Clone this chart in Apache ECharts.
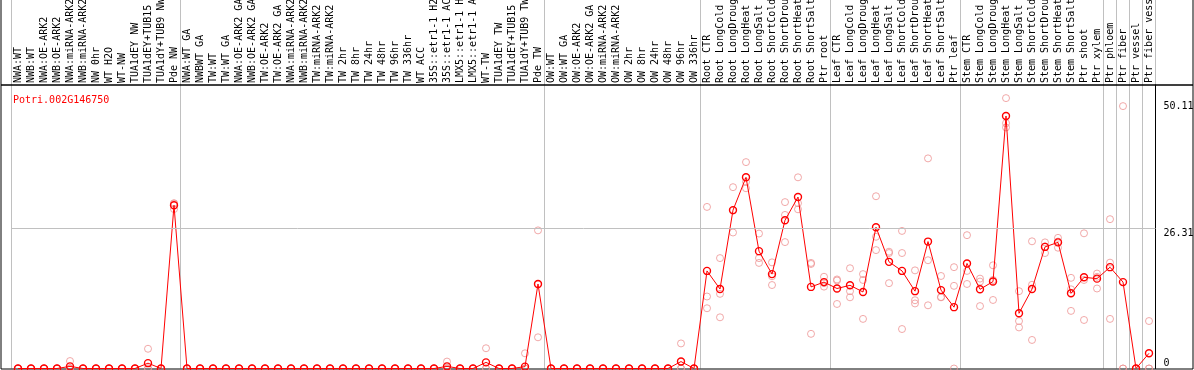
<!DOCTYPE html>
<html>
<head>
<meta charset="utf-8">
<script src="https://cdn.jsdelivr.net/npm/echarts@6/dist/echarts.min.js"></script>
<style>
    html, body { margin: 0; padding: 0; background: #fff; }
    #chart { width: 1194px; height: 370px; }
</style>
</head>
<body>
<div id="chart"></div>
<script>
// 基因表达谱 (Potri.002G146750)
var geneId = 'Potri.002G146750';

var samples = [
    'NWA:WT', 'NWB:WT', 'NWA:OE-ARK2', 'NWB:OE-ARK2', 'NWA:miRNA-ARK2', 'NWB:miRNA-ARK2',
    'NW 0hr', 'WT H2O', 'WT-NW', 'TUA1dEY NW', 'TUA1dEY+TUB15 NW', 'TUA1dY+TUB9 NW', 'Pde NW',
    'NWA:WT GA', 'NWBWT GA', 'TW:WT', 'TW:WT GA', 'NWA:OE-ARK2 GA', 'NWB:OE-ARK2 GA',
    'TW:OE-ARK2', 'TW:OE-ARK2 GA', 'NWA:miRNA-ARK2 GA', 'NWB:miRNA-ARK2 GA', 'TW:miRNA-ARK2',
    'TW:miRNA-ARK2 GA', 'TW 2hr', 'TW 8hr', 'TW 24hr', 'TW 48hr', 'TW 96hr', 'TW 336hr', 'WT ACC',
    '35S::etr1-1 H2O', '35S::etr1-1 ACC', 'LMX5::etr1-1 H2O', 'LMX5::etr1-1 ACC', 'WT-TW',
    'TUA1dEY TW', 'TUA1dEY+TUB15 TW', 'TUA1dY+TUB9 TW', 'Pde TW',
    'OW:WT', 'OW:WT GA', 'OW:OE-ARK2', 'OW:OE-ARK2 GA', 'OW:miRNA-ARK2', 'OW:miRNA-ARK2 GA',
    'OW 2hr', 'OW 8hr', 'OW 24hr', 'OW 48hr', 'OW 96hr', 'OW 336hr',
    'Root CTR', 'Root LongCold', 'Root LongDrought', 'Root LongHeat', 'Root LongSalt',
    'Root ShortCold', 'Root ShortDrought', 'Root ShortHeat', 'Root ShortSalt', 'Ptr root',
    'Leaf CTR', 'Leaf LongCold', 'Leaf LongDrought', 'Leaf LongHeat', 'Leaf LongSalt',
    'Leaf ShortCold', 'Leaf ShortDrought', 'Leaf ShortHeat', 'Leaf ShortSalt', 'Ptr leaf',
    'Stem CTR', 'Stem LongCold', 'Stem LongDrought', 'Stem LongHeat', 'Stem LongSalt',
    'Stem ShortCold', 'Stem ShortDrought', 'Stem ShortHeat', 'Stem ShortSalt', 'Ptr shoot',
    'Ptr xylem', 'Ptr phloem', 'Ptr fiber', 'Ptr vessel', 'Ptr fiber vessel'
];

// 平均值
var meanExpr = [
    0, 0, 0, 0, 0.4, 0, 0, 0, 0, 0, 1.0, 0, 30.6,
    0, 0, 0, 0, 0, 0, 0, 0, 0, 0, 0, 0, 0, 0, 0, 0, 0, 0, 0,
    0, 0.4, 0, 0, 1.15, 0, 0, 0.35, 15.85,
    0, 0, 0, 0, 0, 0, 0, 0, 0, 0, 1.3, 0,
    18.3, 14.9, 29.7, 35.85, 22.0, 17.7, 27.8, 32.15, 15.3, 16.2,
    15.0, 15.6, 14.35, 26.5, 20.0, 18.3, 14.5, 23.8, 14.7, 11.5,
    19.7, 14.85, 16.3, 47.35, 10.35, 14.9, 22.8, 23.65, 14.1, 17.1, 16.85,
    19.0, 16.2, 0, 2.85
];

// 重复样本
var rep1 = [
    0, 0, 0, 0, 1.4, 0, 0, 0, 0, 0, 3.7, 0, 31.0,
    0, 0, 0, 0, 0, 0, 0, 0, 0, 0, 0, 0, 0, 0, 0, 0, 0, 0, 0,
    0, 1.3, 0, 0, 3.8, 0, 0, 2.85, 25.9,
    0, 0, 0, 0, 0, 0, 0, 0, 0, 0, 4.7, 0,
    30.3, 20.7, 34.0, 38.7, 25.3, 19.9, 31.2, 35.85, 19.8, 17.2,
    16.7, 18.8, 17.7, 32.3, 21.9, 25.8, 18.4, 39.4, 17.35, 19.0,
    25.0, 16.85, 19.35, 50.7, 14.5, 23.85, 23.65, 24.5, 17.0, 25.35, 17.8,
    28.0, 49.2, 0, 8.9
];
var rep2 = [
    0, 0, 0, 0, 0, 0, 0, 0, 0, 0, 0, 0, 29.9,
    0, 0, 0, 0, 0, 0, 0, 0, 0, 0, 0, 0, 0, 0, 0, 0, 0, 0, 0,
    0, 0, 0, 0, 0, 0, 0, 0, 5.85,
    0, 0, 0, 0, 0, 0, 0, 0, 0, 0, 0, 0,
    13.5, 14.0, 25.5, 33.8, 20.7, 17.3, 28.8, 31.0, 19.6, 15.35,
    16.5, 14.5, 16.6, 24.7, 21.65, 21.65, 12.8, 20.3, 13.35, 15.5,
    15.85, 11.7, 16.6, 46.0, 8.9, 15.7, 21.65, 22.65, 14.85, 16.6, 17.2,
    19.85, 0, 0, 0
];
var rep3 = [
    0, 0, 0, 0, 0, 0, 0, 0, 0, 0, 0, 0, 30.9,
    0, 0, 0, 0, 0, 0, 0, 0, 0, 0, 0, 0, 0, 0, 0, 0, 0, 0, 0,
    0, 0, 0, 0, 0, 0, 0, 0, 15.8,
    0, 0, 0, 0, 0, 0, 0, 0, 0, 0, 0, 0,
    11.3, 9.6, 29.6, 35.0, 19.8, 15.65, 23.7, 29.85, 6.5, 16.0,
    12.1, 13.35, 9.3, 22.2, 16.0, 7.4, 12.2, 11.85, 13.4, 0,
    18.3, 16.3, 12.85, 45.2, 7.7, 5.35, 22.9, 23.8, 10.8, 9.1, 15.0,
    9.3, 0, 0, 0
];

// 分组起点 (竖向分隔线)
var groupStarts = [0, 13, 41, 53, 63, 73, 84, 85, 86, 87];
var yTicks = [0, 26.31, 50.11];
var refLine = 26.31;
var yMax = 53.16;

var monoFont = 'DejaVu Sans Mono';

var chart = echarts.init(document.getElementById('chart'));

var sepLine = {
    show: true,
    interval: function(index) {
        return groupStarts.indexOf(index) >= 0;
    },
    lineStyle: { color: '#c0c0c0', width: 1 }
};

var seriesList = [{
    name: geneId,
    type: 'line',
    xAxisIndex: 0,
    yAxisIndex: 0,
    data: meanExpr,
    symbol: 'circle',
    symbolSize: 7,
    z: 4,
    lineStyle: { color: '#ff0000', width: 1 },
    itemStyle: { color: 'rgba(0,0,0,0)', borderColor: '#ff0000', borderWidth: 1.4 },
    markLine: {
        silent: true,
        symbol: 'none',
        label: { show: false },
        lineStyle: { color: '#c0c0c0', type: 'solid', width: 1 },
        data: [{ yAxis: refLine }]
    }
}];

// 重复样本散点
[rep1, rep2, rep3].forEach(function(rep, k) {
    seriesList.push({
        name: 'rep' + (k + 1),
        type: 'scatter',
        xAxisIndex: 0,
        yAxisIndex: 0,
        data: rep,
        symbol: 'circle',
        symbolSize: 7,
        z: 3,
        itemStyle: { color: 'rgba(0,0,0,0)', borderColor: '#ee9494', borderWidth: 1 }
    });
});

var option = {
    backgroundColor: '#fff',
    animation: false,
    title: {
        text: geneId,
        left: 8,
        top: 90,
        textStyle: {
            color: '#ff0000',
            fontSize: 10,
            fontWeight: 'normal',
            fontFamily: monoFont
        }
    },
    grid: [
        // 主图
        { left: 11.5, right: 38.5, top: 85, bottom: 1.5, outerBoundsMode: 'none', containLabel: false },
        // 标签区
        { left: 11.5, right: 38.5, top: 0, height: 85, outerBoundsMode: 'none', containLabel: false },
        // 外框
        { left: 1, right: 1, top: 85, bottom: 1, show: true, borderColor: '#000', borderWidth: 1,
          backgroundColor: 'transparent', z: 3, outerBoundsMode: 'none' },
        { left: 1, right: 1, top: -1, height: 86, show: true, borderColor: '#000', borderWidth: 1,
          backgroundColor: 'transparent', z: 3, outerBoundsMode: 'none' }
    ],
    xAxis: [{
        gridIndex: 0,
        type: 'category',
        position: 'top',
        data: samples,
        boundaryGap: true,
        axisLine: { show: false },
        axisTick: { show: false },
        axisLabel: {
            interval: 0,
            rotate: 90,
            margin: 2,
            color: '#000',
            fontSize: 10,
            fontFamily: monoFont
        },
        splitLine: sepLine
    }, {
        gridIndex: 1,
        type: 'category',
        data: samples,
        boundaryGap: true,
        axisLine: { show: false },
        axisTick: { show: false },
        axisLabel: { show: false },
        splitLine: sepLine
    }, {
        gridIndex: 2, type: 'value', show: false
    }, {
        gridIndex: 3, type: 'value', show: false
    }],
    yAxis: [{
        gridIndex: 0,
        type: 'value',
        position: 'right',
        min: 0,
        max: yMax,
        axisLine: { show: true, lineStyle: { color: '#000', width: 1 } },
        axisTick: { show: false },
        splitLine: { show: false },
        axisLabel: {
            customValues: yTicks,
            margin: 8,
            color: '#000',
            fontSize: 10,
            fontFamily: monoFont,
            verticalAlign: 'top',
            verticalAlignMinLabel: 'bottom'
        }
    }, {
        gridIndex: 1, type: 'value', show: false
    }, {
        gridIndex: 2, type: 'value', show: false
    }, {
        gridIndex: 3, type: 'value', show: false
    }],
    series: seriesList
};

chart.setOption(option);
</script>
</body>
</html>
